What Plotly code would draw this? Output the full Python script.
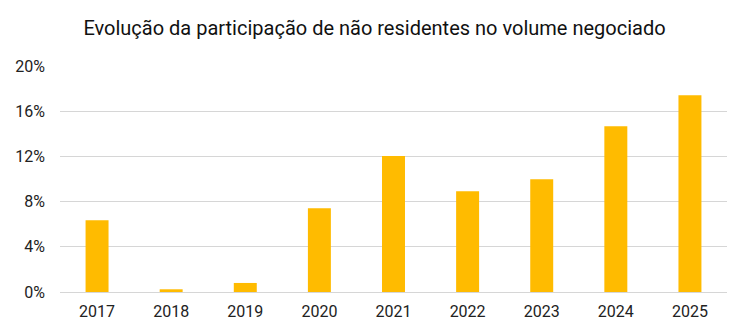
import plotly.graph_objects as go

years = ["2017", "2018", "2019", "2020", "2021", "2022", "2023", "2024", "2025"]
share = [6.35, 0.24, 0.8, 7.41, 12.04, 8.92, 9.98, 14.67, 17.42]
y_ticks = [0, 4, 8, 12, 16, 20]
y_tick_labels = ["0%", "4%", "8%", "12%", "16%", "20%"]
title = "Evolução da participação de não residentes no volume negociado"

fig = go.Figure(go.Bar(x=years, y=share, marker=dict(color="#FFBB00", line=dict(width=0))))

fig.update_layout(
    width=749, height=336,
    margin=dict(l=60, r=22, t=66, b=44),
    paper_bgcolor="white", plot_bgcolor="white",
    bargap=0.69,
    font=dict(family="Roboto", color="#222222"),
    title=dict(text=title, x=0.5, xanchor="center", y=1 - 28/336, yanchor="middle",
               font=dict(size=20, color="#111111")),
    showlegend=False,
)
fig.update_xaxes(showgrid=False, showline=False, ticks="", tickfont=dict(size=16),
                 ticklabelstandoff=8)
fig.update_yaxes(range=[0, 20], tickvals=y_ticks, ticktext=y_tick_labels,
                 showgrid=True, gridcolor="#d6d6d6", gridwidth=1.3,
                 zeroline=True, zerolinecolor="#d6d6d6", zerolinewidth=1.3,
                 showline=False, ticks="", tickfont=dict(size=16), ticklabelstandoff=14)

fig.write_html("out.html")
